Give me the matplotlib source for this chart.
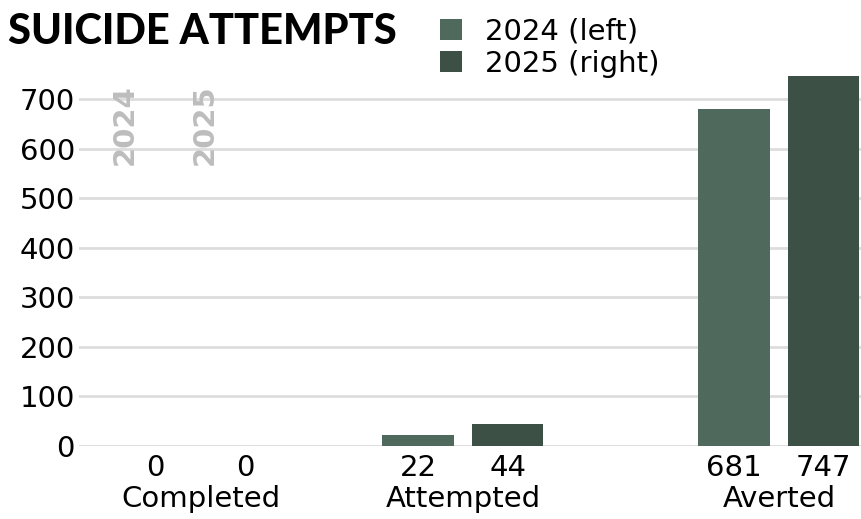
import matplotlib.pyplot as plt
import numpy as np

categories = ['Completed', 'Attempted', 'Averted']
years = ['2024', '2025']
values_2024 = [0, 22, 681]
values_2025 = [0, 44, 747]
legend_labels = ['2024 (left)', '2025 (right)']

colors = ['#4f6a5c', '#3d5045']
group_pos = np.array([0.17, 1.0, 2.0])
bar_w = 0.225
offset = 0.142

plt.rcParams['font.family'] = ['DejaVu Sans']

fig = plt.figure(figsize=(8.62, 5.19), dpi=100)
ax = fig.add_axes([0.0916, 0.1407, 0.9084, 0.716])

for i, (vals, lab, col) in enumerate(zip([values_2024, values_2025], legend_labels, colors)):
    xs = group_pos + (offset if i else -offset)
    ax.bar(xs, vals, width=bar_w, color=col, label=lab, zorder=3)
    for x, v in zip(xs, vals):
        ax.annotate(str(v), (x, 0), xytext=(0, -6), textcoords='offset points',
                    ha='center', va='top', fontsize=21)

for x, c in zip(group_pos, categories):
    ax.annotate(c, (x, 0), xytext=(0, -28), textcoords='offset points',
                ha='center', va='top', fontsize=21)

# rotated year headers
for x, y in zip([-0.069, 0.184], years):
    ax.text(x, 730, y, rotation=90, ha='center', va='top', fontsize=21,
            fontweight='bold', color='#bdbdbd', zorder=4)

ax.set_xlim(-0.215, 2.263)
ax.set_ylim(0, 750)
ax.set_yticks(range(0, 701, 100))
ax.set_xticks([])
ax.tick_params(axis='y', length=0, labelsize=21, pad=3)
ax.yaxis.grid(True, color='#dddddd', linewidth=2, zorder=0)
for s in ax.spines.values():
    s.set_visible(False)

fig.text(0.009, 0.975, 'SUICIDE ATTEMPTS', fontsize=30, fontweight='black',
         family=['Lato', 'DejaVu Sans'], ha='left', va='top')
fig.legend(loc='upper left', bbox_to_anchor=(0.48, 1.017), frameon=False,
           fontsize=21, handlelength=0.75, handleheight=0.75, handletextpad=0.8,
           labelspacing=0.15)

fig.savefig('out.png', dpi=100)
